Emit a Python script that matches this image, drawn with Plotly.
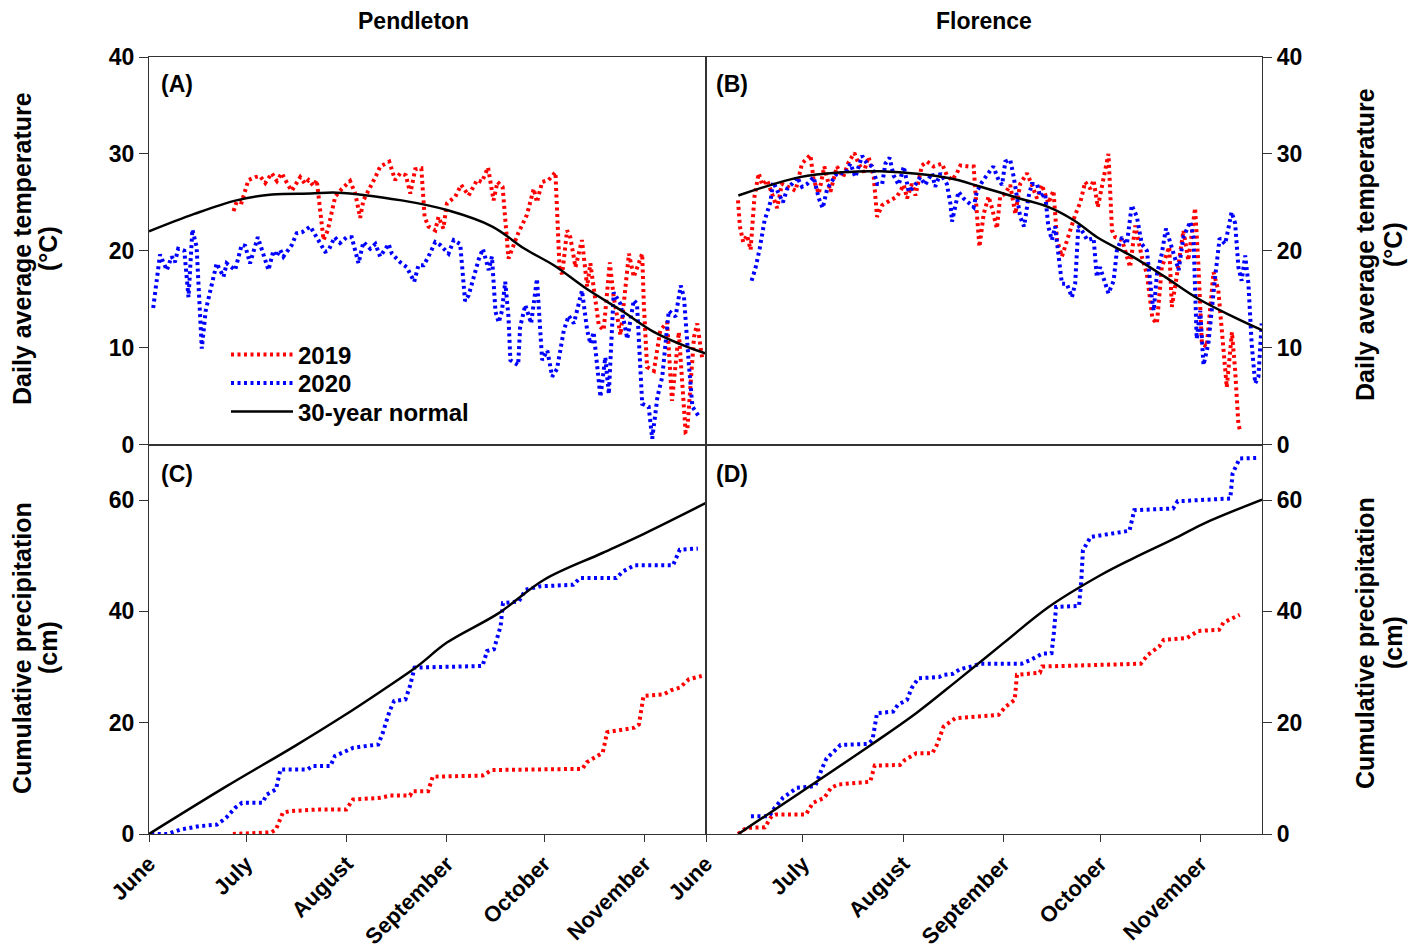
import plotly.graph_objects as go

# ---------------- DATA (day 0 = June 1) ----------------
month_ticks = [0, 30, 61, 92, 122, 153]
month_labels = ["June", "July", "August", "September", "October", "November"]

# Pendleton daily average temperature (°C)
pend_2019_day = [26.1, 27.1, 28.6, 30.7, 32.8, 34.3, 35.9, 37.9, 39.5, 41, 43.1, 44.1, 46.7, 48.2, 49.3, 50.8, 51.8, 52.3, 53.9, 55.2, 57.5, 59.6, 62.1, 63.7, 65.2, 66.2, 67.8, 69.9, 71.4, 74.2, 76, 77.6, 79.3, 80.7, 82.2, 84.1, 85.1, 86.3, 88.4, 89.4, 90.9, 92, 94.6, 96.4, 98.7, 101.3, 102.8, 104.7, 106.4, 107.6, 109.2, 110.5, 111, 114, 116.7, 118.8, 119.8, 121.4, 123.4, 125.5, 126.8, 127.6, 129.1, 130.1, 131.7, 133.7, 135.3, 136.3, 137.8, 138.9, 140.4, 142.3, 143.5, 145.6, 148.2, 149.7, 152.3, 152.8, 153.8, 155.9, 157.9, 160, 161.5, 163.6, 165.7, 166.2, 168.3, 169.3, 170.9]
pend_2019_temp = [24.1, 25.1, 25.0, 27.3, 27.6, 27.7, 27.0, 28.0, 27.2, 28.0, 26.7, 26.2, 27.6, 26.9, 27.3, 26.7, 27.3, 25.6, 21.1, 22.1, 25.6, 26.4, 27.2, 25.9, 23.4, 25.2, 26.2, 27.6, 28.7, 29.2, 27.3, 28.0, 27.8, 25.9, 28.4, 28.5, 23.5, 22.5, 22.1, 23.5, 22.3, 24.9, 25.6, 26.8, 25.7, 27.3, 27.1, 28.6, 25.2, 27.1, 26.6, 21.8, 19.2, 21.8, 23.7, 26.4, 25.0, 27.1, 27.3, 28.1, 18.0, 17.6, 22.1, 21.4, 18.3, 21.1, 16.3, 18.7, 14.9, 12.3, 11.8, 18.8, 15.2, 11.3, 19.7, 17.3, 19.7, 14.5, 8.0, 7.6, 11.8, 12.6, 4.5, 11.6, 1.3, 1.4, 11.1, 12.5, 8.7]

pend_2020_day = [1.3, 3.4, 5.5, 7, 8, 9, 10.9, 12.2, 13.4, 14.7, 16.3, 17.5, 20.9, 23, 24, 26.6, 28.6, 29.7, 31.2, 33.6, 36.9, 38.4, 39.3, 40.5, 41.5, 44.1, 45.6, 47.2, 49.8, 52.3, 54.4, 55.4, 57.3, 59, 61, 62.6, 64.7, 66.2, 68.3, 69.9, 71.4, 74, 75, 77.6, 79.6, 81.9, 83.2, 84.8, 86.3, 88.4, 89.9, 92.5, 94.1, 96.1, 97.6, 98.7, 101.8, 103.1, 104.9, 105.9, 107, 108, 109, 110, 111, 111.6, 114, 114.6, 116.2, 118, 119.8, 121.4, 123, 124.5, 126, 128.1, 129.6, 131.2, 133.7, 135.3, 136.3, 137.3, 139.4, 140.9, 142, 143.5, 145.6, 147.7, 149.7, 150.7, 152.3, 154.3, 155.4, 157, 158.5, 160.5, 162.6, 164.2, 165.2, 166.7, 167.8, 169.8]
pend_2020_temp = [14.1, 19.6, 18.0, 19.4, 18.8, 20.2, 20.0, 15.2, 22.2, 20.4, 9.9, 13.8, 18.7, 17.3, 18.7, 18.0, 20.6, 20.5, 18.7, 21.4, 18.0, 20.0, 19.4, 20.1, 19.4, 20.6, 21.8, 21.9, 22.5, 21.1, 19.9, 20.0, 21.4, 20.8, 21.4, 21.4, 18.7, 20.9, 20.2, 20.7, 19.4, 20.7, 19.7, 18.8, 18.3, 16.8, 18.5, 18.5, 19.4, 20.9, 20.6, 19.7, 21.1, 20.7, 14.8, 15.4, 19.1, 20.2, 18.0, 19.4, 13.7, 12.6, 13.8, 16.8, 13.2, 8.7, 8.2, 12.1, 14.4, 12.5, 17.1, 8.7, 9.7, 7.0, 7.8, 11.8, 13.3, 12.5, 15.9, 11.8, 10.4, 11.6, 4.9, 9.0, 5.2, 15.7, 14.5, 10.9, 14.9, 14.5, 4.2, 3.9, 0.6, 4.9, 7.0, 13.8, 13.2, 16.4, 15.2, 8.3, 3.9, 2.9]

pend_norm_day = [0, 14, 27, 38, 50, 58, 78, 92, 106, 116, 125, 135, 146, 156, 166, 172]
pend_norm_temp = [22.0, 23.8, 25.2, 25.8, 25.9, 26.0, 25.2, 24.2, 22.5, 20.2, 18.5, 16.1, 13.8, 11.6, 10.1, 9.4]

# Florence daily average temperature (°C)
flor_2019_day = [9.9, 10.5, 11.5, 12.7, 13.8, 14.3, 15, 16.3, 17.4, 18.9, 20.5, 22, 23.5, 25.6, 27.7, 29.7, 32.3, 33.3, 34.9, 36.6, 37.5, 38.5, 40.5, 42.4, 44.2, 45.9, 47.2, 48.8, 50.3, 51.9, 52.9, 54.5, 56, 59.1, 61.2, 62.2, 63.7, 64.8, 66.8, 68.4, 70.4, 73, 74.5, 76.1, 77.6, 78.7, 81.2, 82.8, 83.8, 84.6, 85.9, 87.4, 88.4, 90, 91, 92.6, 94.1, 95.7, 97.2, 99.3, 100.8, 102.4, 103.9, 105.9, 107.5, 108.6, 110.1, 111.7, 114.2, 115.8, 117.3, 118.9, 119.9, 121.2, 122.5, 123.5, 124.5, 125.6, 126.6, 128.7, 131.2, 132.8, 134.8, 136.4, 138.1, 139.5, 141, 143.3, 144.1, 145.6, 147.7, 149.2, 151.3, 152.3, 153.4, 154.9, 156.5, 157, 158.5, 160.1, 161.1, 162.7, 163.7, 164.7, 165.3]
flor_2019_temp = [25.2, 22.5, 20.9, 21.6, 20.1, 22.1, 25.6, 28.0, 26.8, 27.3, 25.7, 24.4, 26.9, 26.6, 26.2, 29.0, 29.9, 27.3, 25.9, 28.7, 27.3, 26.1, 28.7, 27.6, 29.2, 30.1, 29.0, 28.1, 29.7, 27.6, 23.5, 24.7, 25.0, 25.6, 26.8, 25.4, 26.9, 25.7, 28.8, 29.2, 28.7, 29.0, 27.8, 27.3, 28.0, 28.8, 28.7, 28.7, 23.8, 20.4, 23.8, 25.6, 24.5, 22.3, 25.6, 25.9, 26.8, 23.8, 26.9, 28.0, 26.8, 25.4, 26.8, 24.9, 26.2, 21.1, 19.4, 21.1, 23.7, 25.0, 27.1, 26.4, 27.3, 24.5, 26.6, 28.7, 30.0, 22.1, 21.4, 21.1, 18.3, 22.6, 19.4, 17.6, 13.0, 12.5, 18.3, 20.4, 14.2, 17.3, 22.1, 19.0, 24.4, 18.7, 10.4, 10.1, 16.3, 17.8, 15.9, 10.1, 5.9, 11.6, 7.6, 2.1, 1.3]

flor_2020_day = [14.1, 15.3, 16.6, 18.1, 19.9, 20.8, 22.2, 23.8, 25.1, 26.6, 28.2, 29.7, 31.3, 33.3, 34.9, 36.1, 37.5, 39, 40.5, 43.1, 44.7, 46.2, 48.3, 49.8, 51.4, 53, 54.5, 55.5, 56.8, 58, 59.6, 61.2, 62.7, 64.3, 66.3, 67.8, 69.9, 70.9, 72.5, 74.5, 75.6, 76.1, 77.1, 78.1, 79.7, 80.9, 82.8, 83.8, 85.4, 86.9, 88.9, 90.5, 91.6, 92.6, 94.1, 95.2, 96.2, 97.2, 98.4, 99.8, 100.8, 102.4, 103.4, 104.9, 105.9, 107, 108, 109.6, 110.1, 111.6, 113.2, 114.2, 115.2, 116.8, 117.9, 119.9, 120.9, 121.9, 123.5, 124.5, 126.1, 127.1, 128.7, 130.2, 131.7, 133.3, 134.8, 136.4, 138, 138.5, 139.5, 141, 142.3, 144.1, 146.2, 147.7, 149.8, 150.8, 151.8, 152.9, 153.9, 155.4, 156.5, 157.5, 158.9, 160.6, 161.6, 162.6, 163.7, 164.7, 165.7, 166.8, 167.8, 168.8, 169.9, 170.9, 171.9]
flor_2020_temp = [16.9, 18.2, 20.2, 23.1, 25.0, 27.1, 26.1, 25.0, 26.4, 26.9, 27.6, 26.6, 26.9, 27.6, 25.4, 24.4, 26.4, 27.3, 28.0, 28.0, 29.0, 27.6, 29.8, 29.0, 28.7, 26.9, 26.9, 29.0, 29.6, 27.8, 26.8, 28.7, 26.1, 26.6, 27.6, 26.8, 28.0, 26.6, 28.0, 26.9, 24.9, 23.0, 24.5, 26.1, 25.4, 25.0, 24.5, 26.1, 27.1, 27.8, 28.7, 27.3, 26.8, 29.2, 29.4, 27.6, 25.2, 23.5, 22.5, 25.6, 26.9, 26.9, 25.6, 25.9, 22.5, 21.1, 22.5, 18.0, 16.6, 16.6, 15.2, 16.6, 22.6, 21.8, 21.1, 21.3, 17.3, 18.3, 16.6, 15.6, 16.9, 20.0, 21.4, 20.7, 24.7, 23.5, 20.7, 20.0, 14.9, 13.8, 17.6, 19.7, 22.3, 20.4, 18.0, 21.4, 23.0, 21.4, 10.9, 13.8, 8.2, 10.4, 14.2, 17.3, 21.3, 20.7, 22.3, 24.0, 22.8, 18.3, 16.9, 19.5, 16.6, 10.4, 6.3, 7.0, 12.5]

flor_norm_day = [10, 29, 42, 54, 75, 85, 97, 106, 114, 121, 132, 142, 152, 163, 172]
flor_norm_temp = [25.7, 27.6, 28.1, 28.2, 27.5, 26.6, 25.4, 24.5, 23.1, 21.4, 19.4, 17.3, 15.1, 13.2, 11.8]

# Pendleton cumulative precipitation (cm)
pend_2019_pday = [25.9, 37.8, 39.2, 41.3, 43.4, 51.8, 60.9, 63.0, 71.5, 74.3, 80.6, 81.3, 86.2, 87.6, 103, 105.8, 133.8, 135.2, 140.1, 141.5, 149.9, 151.3, 152.7, 159.0, 161.1, 163.9, 166.7, 170.7]
pend_2019_prec = [0, 0.3, 0.8, 3.8, 4.1, 4.4, 4.4, 6.2, 6.5, 6.9, 6.9, 7.7, 7.7, 10.3, 10.5, 11.5, 11.7, 12.9, 14.6, 18.3, 19.1, 19.7, 24.8, 25.1, 25.8, 26.3, 27.8, 28.4]
pend_2020_pday = [0.7, 5.6, 9.8, 15.4, 21, 23.8, 26.6, 28.7, 35, 36.4, 39.2, 40.6, 49.0, 50.4, 56.0, 57.4, 63.1, 70.8, 72.2, 74.3, 75.7, 79.2, 80.6, 82, 103, 104.4, 106.5, 108.6, 109.3, 114.2, 116.3, 120.5, 131, 133.1, 144.3, 146.4, 149.9, 161.8, 163.9, 169.5]
pend_2020_prec = [0, 0, 0.8, 1.4, 1.7, 2.9, 4.7, 5.6, 5.6, 7.1, 8.0, 11.6, 11.6, 12.2, 12.2, 14.0, 15.5, 16.1, 18.2, 22.1, 23.9, 24.2, 26.6, 29.9, 30.2, 32.9, 33.2, 37.4, 41.5, 41.8, 43.9, 44.5, 44.8, 46.0, 46.0, 47.2, 48.3, 48.3, 51.1, 51.3]
pend_norm_pday = [0, 24, 45, 60, 72, 83, 92, 108, 122, 140, 153, 172]
pend_norm_prec = [0, 8.6, 15.8, 21.2, 25.8, 30.2, 34.4, 39.7, 45.7, 50.5, 54.0, 59.5]

# Florence cumulative precipitation (cm)
flor_2019_pday = [9.9, 12.5, 18.2, 20.3, 21.7, 30.9, 33.1, 36.6, 38.7, 40.9, 50.8, 52.2, 60.0, 61.5, 65, 70, 71.4, 73.5, 77.1, 90.5, 92.7, 95.5, 96.2, 103.3, 104.0, 134.5, 136.7, 140.2, 141.6, 148.7, 152.3, 158.7, 160.1, 165.1]
flor_2019_prec = [0, 1.1, 1.2, 3.2, 3.5, 3.5, 5.6, 6.5, 8.3, 8.9, 9.4, 12.3, 12.4, 13.3, 14.5, 14.5, 16.0, 19.3, 20.8, 21.4, 22.9, 24.1, 28.6, 29.0, 30.1, 30.6, 32.2, 33.7, 34.9, 35.2, 36.5, 36.7, 38.0, 39.4]
flor_2020_pday = [13.9, 19.6, 21.0, 23.8, 28.1, 33.8, 35.9, 37.3, 39.5, 41.6, 50.1, 51.5, 52.9, 57.9, 59.3, 62.2, 63.6, 65.7, 72.1, 73.5, 76.4, 78.5, 82, 84.9, 97.6, 100.5, 104.0, 106.9, 107.6, 108.3, 115.4, 116.1, 116.6, 119, 131, 132.5, 144.5, 145.9, 162.2, 162.9, 165.1, 171.2]
flor_2020_prec = [3.2, 3.2, 4.5, 6.5, 8.3, 8.6, 11.8, 13.6, 14.8, 16.0, 16.2, 16.9, 21.7, 22.0, 23.2, 24.1, 26.2, 28.0, 28.2, 28.6, 28.8, 29.6, 30.1, 30.6, 30.6, 31.3, 32.4, 32.5, 36.1, 40.8, 41.0, 45.6, 51.0, 53.4, 54.5, 58.2, 58.5, 59.8, 60.3, 64.8, 67.5, 67.6]
flor_norm_pday = [10, 51, 65, 78, 92, 106, 122, 132, 146, 154, 172]
flor_norm_prec = [0, 16.0, 21.7, 27.7, 34.3, 40.8, 46.5, 49.5, 53.4, 55.8, 60.1]

# ---------------- STYLE ----------------
RED = "#FF0000"
BLUE = "#0000FF"
FONT = "Liberation Sans, Arial, sans-serif"
DOT = "3px,3.5px"
DOT_W = 4.0

# page body has an 8px margin: figure is drawn 8px in from the window edge
OFF = 8
W, H = 1419 - OFF, 951 - OFF


def px(x):
    return (x - OFF) / W


def py(y):
    return 1 - (y - OFF) / H


fig = go.Figure()


def add_series(x, y, xa, ya, color, name, legend, dotted=True, spline=False):
    line = dict(color=color, width=DOT_W, dash=DOT) if dotted else dict(color=color, width=2.5)
    if spline:
        line["shape"] = "spline"
    fig.add_trace(go.Scatter(x=x, y=y, mode="lines", line=line, name=name,
                             showlegend=legend is not None, legend=legend or "legend",
                             xaxis=xa, yaxis=ya))


# Panel A
add_series(pend_2019_day, pend_2019_temp, "x", "y", RED, "2019", "legend")
add_series(pend_2020_day, pend_2020_temp, "x", "y", BLUE, "2020", "legend2")
add_series(pend_norm_day, pend_norm_temp, "x", "y", "black", "30-year normal", "legend3", dotted=False, spline=True)
# Panel B
add_series(flor_2019_day, flor_2019_temp, "x2", "y2", RED, "2019", None)
add_series(flor_2020_day, flor_2020_temp, "x2", "y2", BLUE, "2020", None)
add_series(flor_norm_day, flor_norm_temp, "x2", "y2", "black", "30-year normal", None, dotted=False, spline=True)
# Panel C
add_series(pend_2019_pday, pend_2019_prec, "x3", "y3", RED, "2019", None)
add_series(pend_2020_pday, pend_2020_prec, "x3", "y3", BLUE, "2020", None)
add_series(pend_norm_pday, pend_norm_prec, "x3", "y3", "black", "30-year normal", None, dotted=False, spline=True)
# Panel D
add_series(flor_2019_pday, flor_2019_prec, "x4", "y4", RED, "2019", None)
add_series(flor_2020_pday, flor_2020_prec, "x4", "y4", BLUE, "2020", None)
add_series(flor_norm_pday, flor_norm_prec, "x4", "y4", "black", "30-year normal", None, dotted=False, spline=True)

xl = [px(149), px(706)]
xr = [px(706), px(1262)]
yt = [py(444.5), py(57)]
yb = [py(834), py(444.5)]

tickfont = dict(family=FONT, size=23, color="black", weight="bold")
monthfont = dict(family=FONT, size=22, color="black", weight="bold")
frame = dict(showline=True, mirror=True, linecolor="#333333", linewidth=1.3,
             showgrid=False, zeroline=False, automargin=False)


def xax(domain, anchor, labels):
    d = dict(domain=domain, anchor=anchor, range=[0, 172], tickmode="array",
             tickvals=month_ticks, ticktext=month_labels, **frame)
    if labels:
        d.update(ticks="outside", ticklen=7, tickwidth=1.3, tickcolor="#333333",
                 showticklabels=True, tickangle=-45, tickfont=monthfont)
    else:
        d.update(ticks="", showticklabels=False)
    return d


def yax(domain, anchor, rng, dtick, side):
    return dict(domain=domain, anchor=anchor, range=rng, dtick=dtick, tick0=0,
                side=side, ticks="outside", ticklen=9, tickwidth=1.3,
                tickcolor="#333333", tickfont=tickfont, **frame)


def leg(yc):
    return dict(x=px(226), y=py(yc), xanchor="left", yanchor="middle",
                bgcolor="rgba(0,0,0,0)", borderwidth=0,
                font=dict(family=FONT, size=24, weight="bold", color="black"),
                itemwidth=62)


fig.update_layout(
    width=W, height=H,
    margin=dict(l=0, r=0, t=0, b=0, autoexpand=False),
    paper_bgcolor="white", plot_bgcolor="white",
    font=dict(family=FONT, color="black"),
    xaxis=xax(xl, "y", False),
    xaxis2=xax(xr, "y2", False),
    xaxis3=xax(xl, "y3", True),
    xaxis4=xax(xr, "y4", True),
    yaxis=yax(yt, "x", [0, 40], 10, "left"),
    yaxis2=yax(yt, "x2", [0, 40], 10, "right"),
    yaxis3=yax(yb, "x3", [0, 70], 20, "left"),
    yaxis4=yax(yb, "x4", [0, 70], 20, "right"),
    legend=leg(355), legend2=leg(383.5), legend3=leg(412),
    showlegend=True,
)

ann_font = dict(family=FONT, size=23, color="black", weight="bold")
title_font = dict(family=FONT, size=25, color="black", weight="bold")
annotations = [
    dict(text="Pendleton", x=px(414), y=py(21), font=ann_font),
    dict(text="Florence", x=px(984), y=py(21), font=ann_font),
    dict(text="(A)", x=px(159), y=py(84), font=ann_font, xanchor="left"),
    dict(text="(B)", x=px(714), y=py(84), font=ann_font, xanchor="left"),
    dict(text="(C)", x=px(159), y=py(474), font=ann_font, xanchor="left"),
    dict(text="(D)", x=px(714), y=py(474), font=ann_font, xanchor="left"),
    dict(text="Daily average temperature", x=px(22), y=py(249), font=title_font, textangle=-90),
    dict(text="(°C)", x=px(48), y=py(249), font=title_font, textangle=-90),
    dict(text="Cumulative precipitation", x=px(22), y=py(648), font=title_font, textangle=-90),
    dict(text="(cm)", x=px(48), y=py(648), font=title_font, textangle=-90),
    dict(text="Daily average temperature", x=px(1365), y=py(245), font=title_font, textangle=-90),
    dict(text="(°C)", x=px(1393), y=py(245), font=title_font, textangle=-90),
    dict(text="Cumulative precipitation", x=px(1365), y=py(643), font=title_font, textangle=-90),
    dict(text="(cm)", x=px(1393), y=py(643), font=title_font, textangle=-90),
]
for a in annotations:
    a.setdefault("xanchor", "center")
    a.update(xref="paper", yref="paper", yanchor="middle", showarrow=False)
fig.update_layout(annotations=annotations)

fig.write_html("out.html")
